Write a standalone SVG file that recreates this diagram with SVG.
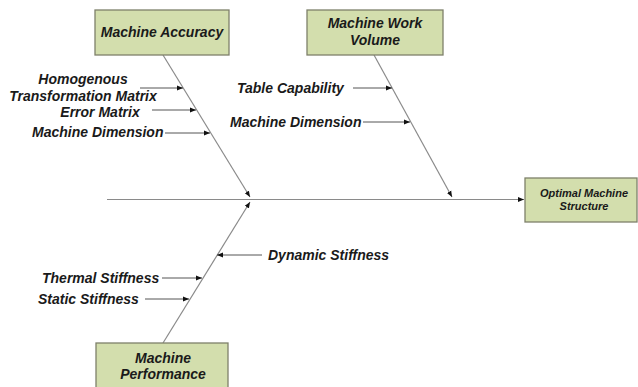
<svg xmlns="http://www.w3.org/2000/svg" width="638" height="387" viewBox="0 0 638 387">
<style>
.box{fill:#d3dead;stroke:#7e806a;stroke-width:1.3}
.t{font-family:"Liberation Sans",Arial,sans-serif;font-weight:bold;font-style:italic;font-size:14px;fill:#1a1a1a}
.bt{text-anchor:middle}
.s{font-size:11px}
.ln{stroke:#8a8a8a;stroke-width:1.2;fill:none}
.ar{stroke:#555;stroke-width:1;fill:none;marker-end:url(#ah)}
</style>
<defs>
<marker id="ah" viewBox="0 0 10 10" refX="10" refY="5" markerWidth="6" markerHeight="6" markerUnits="userSpaceOnUse" orient="auto">
<path d="M0,1 L10,5 L0,9 z" fill="#111"/>
</marker>
</defs>
<rect width="638" height="387" fill="#fff"/>
<g id="connectors">
<path class="ln" d="M107,199.5 L524,199.5" marker-end="url(#ah)"/>
<path class="ln" d="M163,55 L250,197" marker-end="url(#ah)"/>
<path class="ln" d="M374,55 L452,197" marker-end="url(#ah)"/>
<path class="ln" d="M163,343 L250,202" marker-end="url(#ah)"/>
<path class="ar" d="M140,88 L183,88"/>
<path class="ar" d="M152,110 L196,110"/>
<path class="ar" d="M165,133 L210,133"/>
<path class="ar" d="M353,88 L392,88"/>
<path class="ar" d="M363,122 L410,122"/>
<path class="ar" d="M262,255 L217,255"/>
<path class="ar" d="M162,278 L202,278"/>
<path class="ar" d="M145,299 L189,299"/>
</g>
<g id="node-accuracy">
<rect class="box" x="95" y="10" width="134" height="45"/>
<text class="t bt" x="162" y="37">Machine Accuracy</text>
</g>
<g id="node-workvolume">
<rect class="box" x="307" y="10" width="136" height="45"/>
<text class="t bt" x="375" y="28">Machine Work</text>
<text class="t bt" x="375" y="45">Volume</text>
</g>
<g id="node-optimal">
<rect class="box" x="525" y="178" width="112" height="44"/>
<text class="t bt s" x="584" y="197">Optimal Machine</text>
<text class="t bt s" x="584" y="210">Structure</text>
</g>
<g id="node-performance">
<rect class="box" x="96" y="343" width="132" height="50"/>
<text class="t bt" x="163" y="363">Machine</text>
<text class="t bt" x="163" y="379">Performance</text>
</g>
<g id="labels">
<text class="t bt" x="83" y="84">Homogenous</text>
<text class="t bt" x="83" y="101">Transformation Matrix</text>
<text class="t bt" x="100" y="117">Error Matrix</text>
<text class="t" x="32" y="137">Machine Dimension</text>
<text class="t" x="237" y="93">Table Capability</text>
<text class="t" x="230" y="127">Machine Dimension</text>
<text class="t" x="268" y="260">Dynamic Stiffness</text>
<text class="t" x="42" y="283">Thermal Stiffness</text>
<text class="t" x="38" y="304">Static Stiffness</text>
</g>
</svg>
